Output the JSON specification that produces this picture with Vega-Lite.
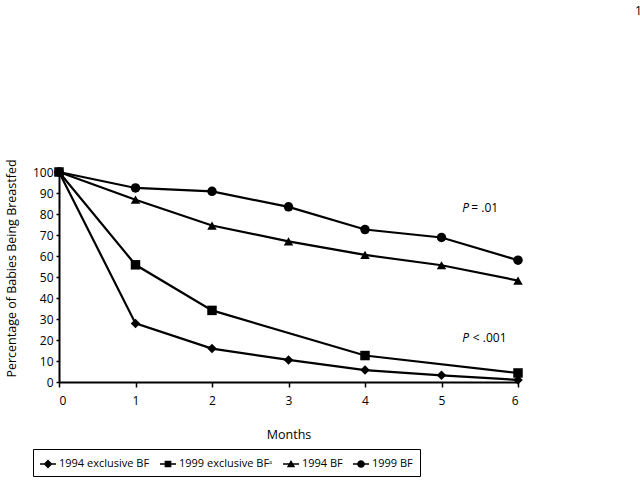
{
  "$schema": "https://vega.github.io/schema/vega-lite/v6.json",
  "width": 459,
  "height": 210,
  "autosize": {"type": "none"},
  "padding": {"left": 59, "top": 172, "right": 122, "bottom": 98},
  "config": {
    "font": "Open Sans",
    "view": {"stroke": null},
    "axis": {"labelFont": "Open Sans", "titleFont": "Open Sans", "labelColor": "black", "titleColor": "black", "domainColor": "black", "tickColor": "black", "grid": false, "titleFontWeight": "normal", "labelFontSize": 12, "titleFontSize": 12.5, "domainWidth": 2, "tickWidth": 1.5}
  },
  "data": {"values": [
    {"month": 0, "pct": 100, "series": "1994 exclusive BF"},
    {"month": 1, "pct": 27.9, "series": "1994 exclusive BF"},
    {"month": 2, "pct": 15.9, "series": "1994 exclusive BF"},
    {"month": 3, "pct": 10.5, "series": "1994 exclusive BF"},
    {"month": 4, "pct": 5.7, "series": "1994 exclusive BF"},
    {"month": 5, "pct": 3.2, "series": "1994 exclusive BF"},
    {"month": 6, "pct": 1.0, "series": "1994 exclusive BF"},
    {"month": 0, "pct": 100, "series": "1999 exclusive BFᵃ"},
    {"month": 1, "pct": 55.8, "series": "1999 exclusive BFᵃ"},
    {"month": 2, "pct": 34.1, "series": "1999 exclusive BFᵃ"},
    {"month": 4, "pct": 12.6, "series": "1999 exclusive BFᵃ"},
    {"month": 6, "pct": 4.3, "series": "1999 exclusive BFᵃ"},
    {"month": 0, "pct": 100, "series": "1994 BF"},
    {"month": 1, "pct": 86.8, "series": "1994 BF"},
    {"month": 2, "pct": 74.5, "series": "1994 BF"},
    {"month": 3, "pct": 67.0, "series": "1994 BF"},
    {"month": 4, "pct": 60.5, "series": "1994 BF"},
    {"month": 5, "pct": 55.6, "series": "1994 BF"},
    {"month": 6, "pct": 48.3, "series": "1994 BF"},
    {"month": 0, "pct": 100, "series": "1999 BF"},
    {"month": 1, "pct": 92.4, "series": "1999 BF"},
    {"month": 2, "pct": 90.8, "series": "1999 BF"},
    {"month": 3, "pct": 83.4, "series": "1999 BF"},
    {"month": 4, "pct": 72.6, "series": "1999 BF"},
    {"month": 5, "pct": 68.8, "series": "1999 BF"},
    {"month": 6, "pct": 58.0, "series": "1999 BF"}
  ]},
  "encoding": {
    "x": {"field": "month", "type": "quantitative", "scale": {"domain": [0, 6], "nice": false, "zero": false},
      "axis": {"values": [0,1,2,3,4,5,6], "title": "Months", "tickSize": 5, "labelPadding": 8, "titlePadding": 22, "format": "d"}},
    "y": {"field": "pct", "type": "quantitative", "scale": {"domain": [0, 100], "nice": false},
      "axis": {"values": [0,10,20,30,40,50,60,70,80,90,100], "title": "Percentage of Babies Being Breastfed", "tickSize": 3, "labelPadding": 3, "titlePadding": 14, "titleY": 96}}
  },
  "layer": [
    {"mark": {"type": "line", "color": "black", "strokeWidth": 2.2}, "encoding": {"detail": {"field": "series"}}},
    {"mark": {"type": "point", "filled": true, "color": "black", "opacity": 1, "size": 90},
      "encoding": {"shape": {"field": "series", "type": "nominal",
        "scale": {"domain": ["1994 exclusive BF", "1999 exclusive BFᵃ", "1994 BF", "1999 BF"], "range": ["diamond", "square", "triangle-up", "circle"]},
        "legend": null}}},
    {"mark": {"type": "point", "filled": true, "color": "black", "opacity": 0},
      "encoding": {
        "shape": {"field": "series", "type": "nominal",
        "scale": {"domain": ["1994 exclusive BF", "1999 exclusive BFᵃ", "1994 BF", "1999 BF"],
          "range": [
            "M-1,-0.1L1,-0.1L1,0.1L-1,0.1ZM0,-0.55L0.55,0L0,0.55L-0.55,0Z",
            "M-1,-0.1L1,-0.1L1,0.1L-1,0.1ZM-0.42,-0.42L0.42,-0.42L0.42,0.42L-0.42,0.42Z",
            "M-1,-0.1L1,-0.1L1,0.1L-1,0.1ZM0,-0.5L0.52,0.42L-0.52,0.42Z",
            "M-1,-0.1L1,-0.1L1,0.1L-1,0.1ZM-0.48,0A0.48,0.48 0 1,1 0.48,0A0.48,0.48 0 1,1 -0.48,0Z"]},
        "legend": {"title": null, "orient": "none", "legendX": -26, "legendY": 277, "direction": "horizontal", "columns": 4,
          "symbolSize": 256, "symbolOpacity": 1, "symbolFillColor": "black", "symbolStrokeColor": "black", "symbolStrokeWidth": 0,
          "labelFont": "Open Sans", "labelFontSize": 11, "labelColor": "black", "labelOffset": 3, "columnPadding": 10,
          "strokeColor": "black", "padding": 7}}}},
    {"transform": [{"filter": "datum.month == 0 && datum.series == '1994 BF'"}],
      "mark": {"type": "text", "font": "Open Sans", "fontSize": 12, "fontStyle": "italic", "align": "left", "baseline": "middle", "color": "black"},
      "encoding": {"x": {"datum": 5.27}, "y": {"datum": 83}, "text": {"value": "P"}}},
    {"transform": [{"filter": "datum.month == 0 && datum.series == '1994 BF'"}],
      "mark": {"type": "text", "font": "Open Sans", "fontSize": 12, "align": "left", "baseline": "middle", "color": "black"},
      "encoding": {"x": {"datum": 5.39}, "y": {"datum": 83}, "text": {"value": "= .01"}}},
    {"transform": [{"filter": "datum.month == 0 && datum.series == '1994 BF'"}],
      "mark": {"type": "text", "font": "Open Sans", "fontSize": 12, "fontStyle": "italic", "align": "left", "baseline": "middle", "color": "black"},
      "encoding": {"x": {"datum": 5.27}, "y": {"datum": 21}, "text": {"value": "P"}}},
    {"transform": [{"filter": "datum.month == 0 && datum.series == '1994 BF'"}],
      "mark": {"type": "text", "font": "Open Sans", "fontSize": 12, "align": "left", "baseline": "middle", "color": "black"},
      "encoding": {"x": {"datum": 5.41}, "y": {"datum": 21}, "text": {"value": "< .001"}}},
    {"transform": [{"filter": "datum.month == 0 && datum.series == '1994 BF'"}],
      "mark": {"type": "text", "font": "Open Sans", "fontSize": 12, "align": "left", "baseline": "middle", "color": "black"},
      "encoding": {"x": {"datum": 7.53}, "y": {"datum": 176.5}, "text": {"value": "1"}}}
  ],
  "resolve": {"scale": {"shape": "independent"}, "legend": {"shape": "independent"}}
}
